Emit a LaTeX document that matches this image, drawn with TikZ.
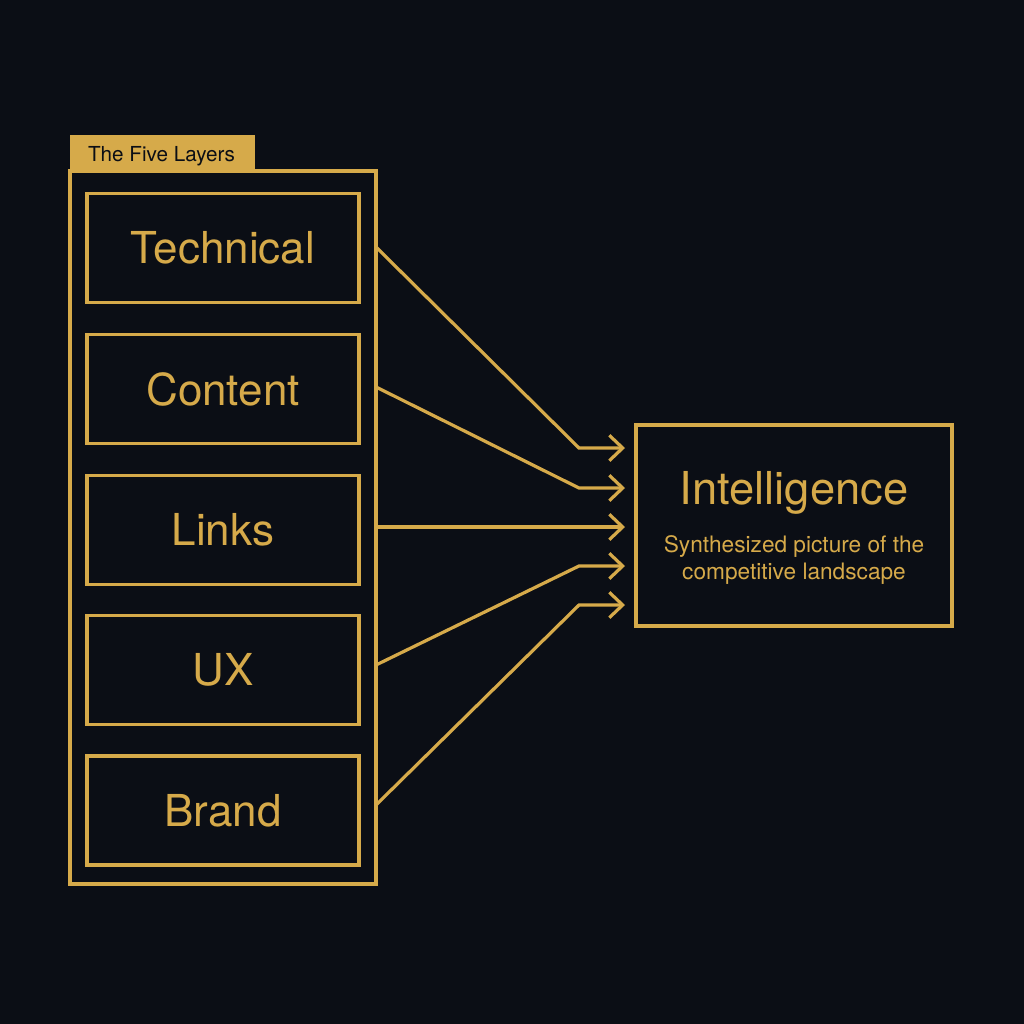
\documentclass[tikz,border=0pt]{standalone}
\usepackage{fontspec}
\setmainfont{TeX Gyre Heros}
\usetikzlibrary{arrows.meta}
\definecolor{bg}{HTML}{0B0E15}
\definecolor{gold}{HTML}{D6AA4A}
\begin{document}
\begin{tikzpicture}[x=0.75pt,y=-0.75pt,
  goldline/.style={draw=gold,line width=2.3pt},
  layerbox/.style={goldline,minimum width=272*0.75pt,minimum height=109*0.75pt,inner sep=0pt,text=gold,font=\fontsize{33}{38}\selectfont},
  flow/.style={draw=gold,line width=2.4pt,-{Straight Barb[length=10pt,width=19pt,line width=2.4pt]}}]
\fill[bg] (0,0) rectangle (1024,1024);
\useasboundingbox (0,0) rectangle (1024,1024);
% container
\node[goldline,minimum width=306*0.75pt,minimum height=713*0.75pt,inner sep=0pt] (cont) at (223,527.5) {};
\node[fill=gold,minimum width=185*0.75pt,minimum height=36*0.75pt,inner sep=0pt,anchor=south west] (tab) at (70,171) {};
\node[text=bg,font=\fontsize{15.5}{18}\selectfont,anchor=base] (tabtext) at (161.5,161) {The Five Layers};
\node[layerbox] (tech) at (223,248) {Technical};
\node[layerbox] (cont2) at (223,389) {Content};
\node[layerbox] (links) at (223,530) {Links};
\node[layerbox] (ux) at (223,670) {UX};
\node[layerbox] (brand) at (223,810.5) {Brand};
% intelligence
\node[goldline,minimum width=316*0.75pt,minimum height=201*0.75pt,inner sep=0pt] (intel) at (794,525.5) {};
\node[text=gold,font=\fontsize{34}{38}\selectfont] (ititle) at (794,493) {Intelligence};
\node[text=gold,font=\fontsize{17}{20.5}\selectfont,align=center] (isub) at (794,560) {Synthesized picture of the\\competitive landscape};
% arrow coordinates
\coordinate (s1) at (376,247); \coordinate (b1) at (579,448); \coordinate (e1) at (625,448);
\coordinate (s2) at (376,387); \coordinate (b2) at (579,488); \coordinate (e2) at (625,488);
\coordinate (s3) at (376,527); \coordinate (e3) at (625,527);
\coordinate (s4) at (376,665); \coordinate (b4) at (579,566); \coordinate (e4) at (625,566);
\coordinate (s5) at (376,805); \coordinate (b5) at (579,605); \coordinate (e5) at (625,605);
\draw[flow] (s1) -- (b1) -- (e1);
\draw[flow] (s2) -- (b2) -- (e2);
\draw[flow] (s3) -- (e3);
\draw[flow] (s4) -- (b4) -- (e4);
\draw[flow] (s5) -- (b5) -- (e5);
\end{tikzpicture}
\end{document}
